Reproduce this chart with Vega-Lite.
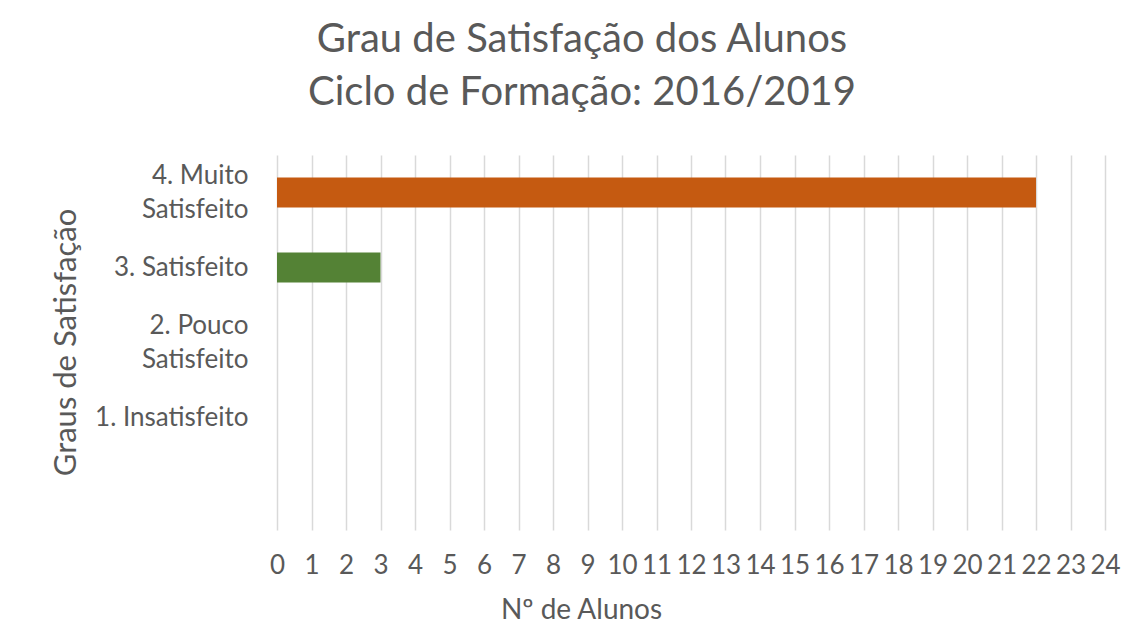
{
  "$schema": "https://vega.github.io/schema/vega-lite/v6.json",
  "width": 828,
  "height": 375,
  "autosize": {"type": "none"},
  "padding": {"left": 277, "top": 155, "right": 19, "bottom": 93},
  "background": "white",
  "config": {
    "font": "Lato",
    "view": {"stroke": null},
    "title": {"color": "#595959", "fontSize": 40, "fontWeight": "normal", "font": "Lato"}
  },
  "title": {
    "text": ["Grau de Satisfação dos Alunos", "Ciclo de Formação: 2016/2019"],
    "anchor": "middle",
    "dx": -109,
    "offset": 42,
    "lineHeight": 53
  },
  "data": {
    "values": [
      {"grau": "4. Muito|Satisfeito", "alunos": 22},
      {"grau": "3. Satisfeito", "alunos": 3},
      {"grau": "2. Pouco|Satisfeito", "alunos": 0},
      {"grau": "1. Insatisfeito", "alunos": 0}
    ]
  },
  "mark": {"type": "bar"},
  "encoding": {
    "y": {
      "field": "grau",
      "type": "nominal",
      "scale": {
        "domain": ["4. Muito|Satisfeito", "3. Satisfeito", "2. Pouco|Satisfeito", "1. Insatisfeito", " "],
        "paddingInner": 0.6,
        "paddingOuter": 0.3
      },
      "axis": {
        "title": "Graus de Satisfação",
        "titleColor": "#595959",
        "titleFontSize": 31,
        "titleFontWeight": "normal",
        "titleX": -211,
        "titleY": 187,
        "titleAngle": -90,
        "titleAlign": "center",
        "titleBaseline": "middle",
        "labelExpr": "split(datum.label, '|')",
        "labelColor": "#595959",
        "labelFontSize": 26,
        "labelLineHeight": 34,
        "labelOffset": {"condition": {"test": "indexof(datum.value, '|') >= 0", "value": -17}, "value": 0},
        "labelPadding": 29,
        "domain": false,
        "ticks": false,
        "grid": false
      }
    },
    "x": {
      "field": "alunos",
      "type": "quantitative",
      "scale": {"domain": [0, 24], "nice": false},
      "axis": {
        "title": "Nº de Alunos",
        "titleColor": "#595959",
        "titleFontSize": 28,
        "titleFontWeight": "normal",
        "titleX": 304,
        "titleY": 80,
        "titleAlign": "center",
        "titleBaseline": "middle",
        "values": [0,1,2,3,4,5,6,7,8,9,10,11,12,13,14,15,16,17,18,19,20,21,22,23,24],
        "labelColor": "#595959",
        "labelFontSize": 26,
        "labelPadding": 22,
        "labelFlush": false,
        "labelOverlap": false,
        "domain": false,
        "ticks": false,
        "grid": true,
        "gridColor": "#d9d9d9",
        "gridWidth": 1.5
      }
    },
    "color": {
      "field": "grau",
      "type": "nominal",
      "scale": {
        "domain": ["4. Muito|Satisfeito", "3. Satisfeito", "2. Pouco|Satisfeito", "1. Insatisfeito"],
        "range": ["#C55A11", "#548235", "#4472C4", "#A5A5A5"]
      },
      "legend": null
    }
  }
}
